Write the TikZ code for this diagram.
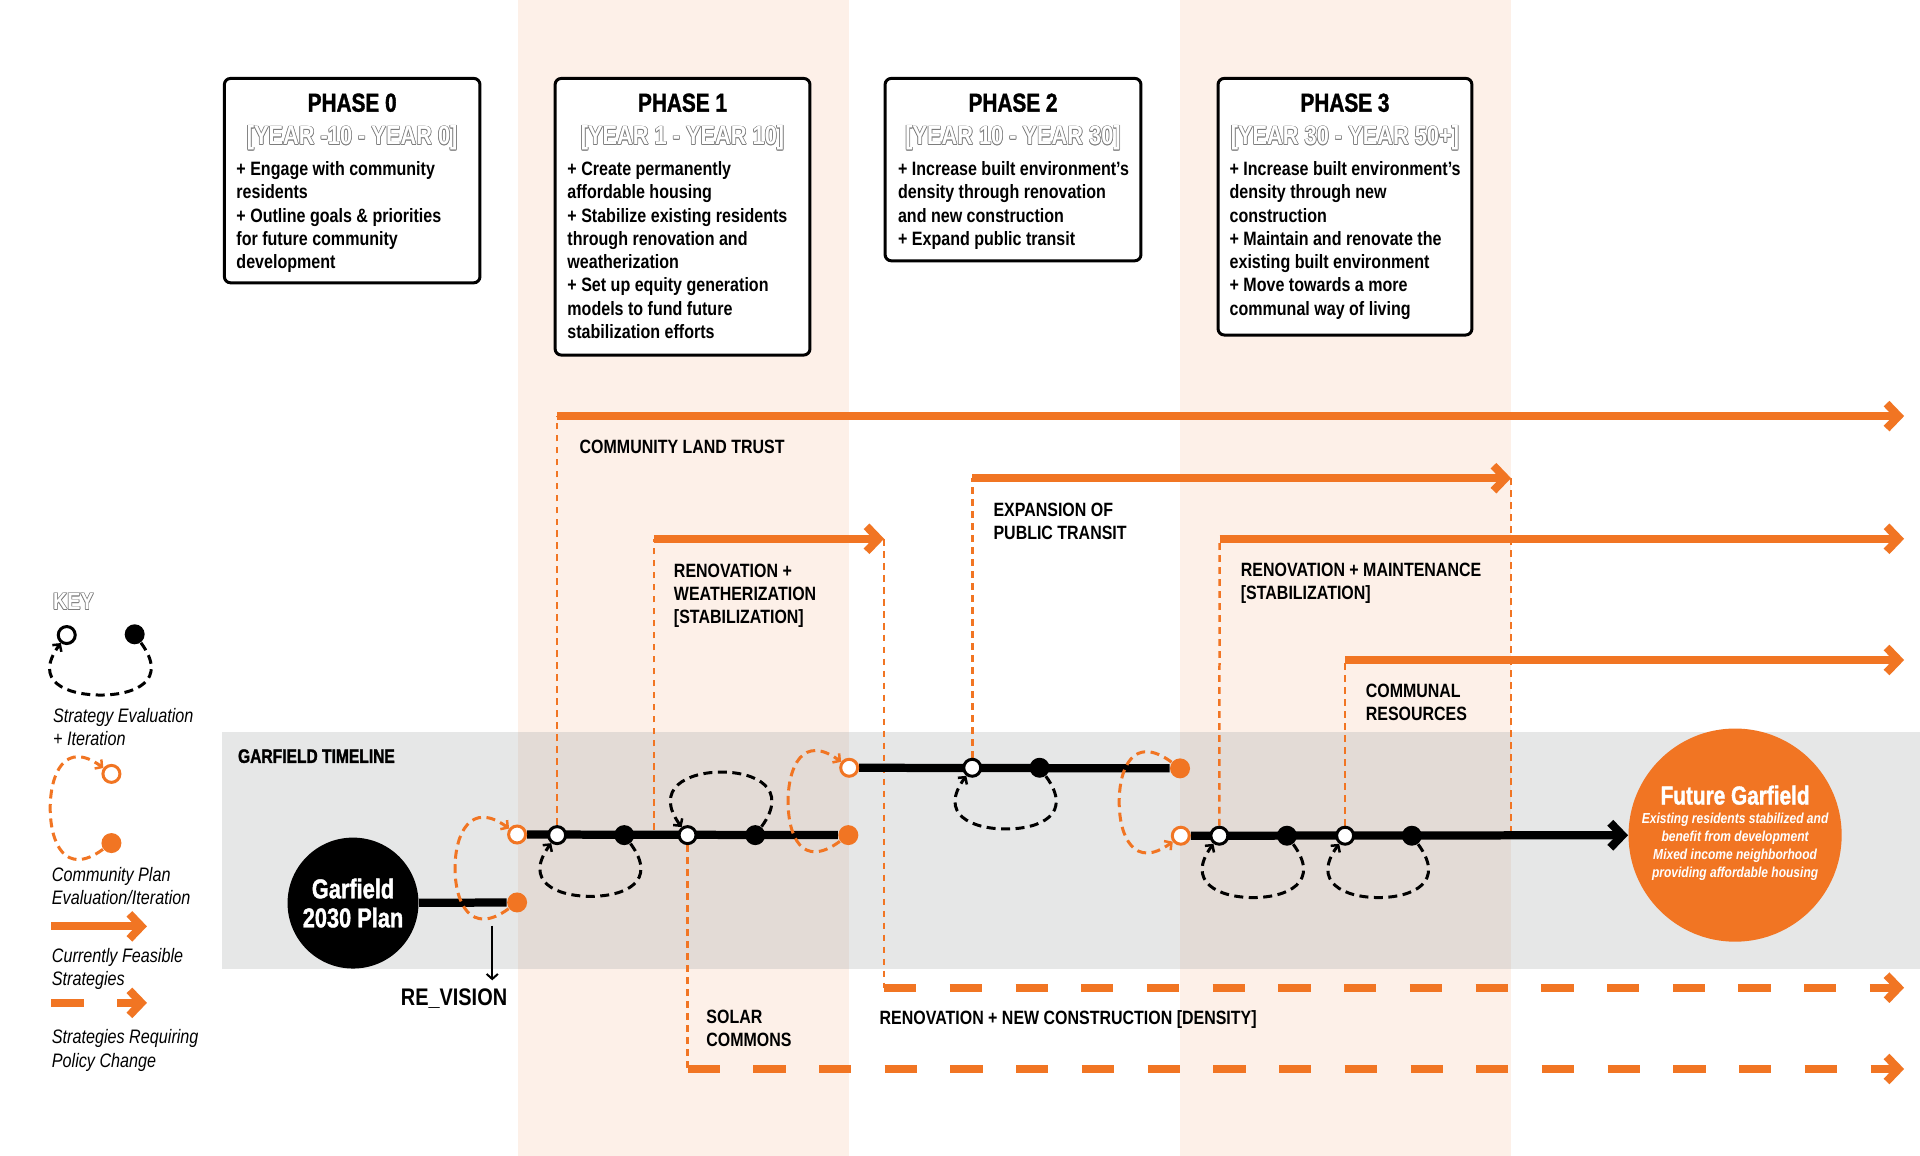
\documentclass[tikz,border=0pt]{standalone}
\usepackage{fontspec}
\setmainfont[FakeStretch=0.83]{Liberation Sans}
\newfontfamily\heavyfont[FakeStretch=0.8,BoldFeatures={FakeBold=1.4}]{Liberation Sans}
\usetikzlibrary{arrows.meta}
\pgfdeclarelayer{bg}\pgfdeclarelayer{mid}\pgfsetlayers{bg,mid,main}
\definecolor{org}{RGB}{241,117,35}
\definecolor{peach}{RGB}{253,240,232}
\definecolor{band}{RGB}{230,231,231}
\definecolor{ovl}{RGB}{227,219,214}
\definecolor{olg}{RGB}{125,125,125}
\newcommand\olt[1]{{\setbox0\hbox{#1}%
 \rlap{\color{olg}\raise.28pt\copy0}%
 \rlap{\color{olg}\lower.28pt\copy0}%
 \rlap{\color{olg}\kern.28pt\copy0}%
 \rlap{\color{olg}\kern-.28pt\copy0}%
 \rlap{\color{olg}\kern.2pt\raise.2pt\copy0}%
 \rlap{\color{olg}\kern-.2pt\raise.2pt\copy0}%
 \rlap{\color{olg}\kern.2pt\lower.2pt\copy0}%
 \rlap{\color{olg}\kern-.2pt\lower.2pt\copy0}%
 {\color{white}\copy0}}}
\tikzset{
 chev/.tip={Straight Barb[length=4.8pt,width=10pt]},
 feas/.style={draw=org, line width=3.2pt, -chev},
 polc/.style={draw=org, line width=3.2pt, dash pattern=on 12.9pt off 13.4pt, -chev},
 thind/.style={draw=org, line width=1pt, dash pattern=on 2.7pt off 2.1pt},
 tl/.style={draw=black, line width=3.3pt},
 bloop/.style={draw=black, line width=1.2pt, dash pattern=on 3.6pt off 2.2pt, -{Straight Barb[length=2pt,width=4.5pt,line width=1pt]}},
 oloop/.style={bloop, draw=org},
 ob/.style={circle, draw=black, fill=white, line width=1.2pt, minimum size=6.8pt, inner sep=0},
 oo/.style={ob, draw=org},
 fb/.style={circle, fill=black, minimum size=8pt, inner sep=0},
 fo/.style={fb, fill=org},
 phbox/.style={draw=black, line width=1.2pt, fill=white, rounded corners=2.5pt, inner sep=0},
 ttl/.style={font=\fontsize{10.4}{12}\selectfont\heavyfont\bfseries, inner sep=0, anchor=base},
 yr/.style={font=\fontsize{10.5}{12}\selectfont\bfseries, inner sep=0, anchor=base},
 body/.style={font=\fontsize{7.74}{9.3}\selectfont\bfseries, align=left, inner sep=0, anchor=north west},
 lbl/.style={font=\fontsize{7.7}{9.3}\selectfont\bfseries, align=left, inner sep=0, anchor=north west},
 keytxt/.style={font=\fontsize{7.8}{9.3}\selectfont\itshape, align=left, inner sep=0, anchor=north west},
}
\begin{document}
\begin{tikzpicture}[x=0.49pt,y=-0.49pt]
\useasboundingbox (0,0) rectangle (1568,944);
\begin{pgfonlayer}{bg}
\fill[white] (0,0) rectangle (1568,944);
\fill[peach] (423,0) rectangle (693.5,944);
\fill[peach] (963.6,0) rectangle (1233.6,944);
\fill[band] (181.7,597.5) rectangle (1568,791.4);
\fill[ovl] (423,597.5) rectangle (693.5,791.4);
\fill[ovl] (963.6,597.5) rectangle (1233.6,791.4);
\end{pgfonlayer}

% phase boxes
\node[phbox, minimum width=102.3pt, minimum height=81.8pt] (p0) at (287.6,147.5) {};
\node[phbox, minimum width=102pt, minimum height=110.7pt] (p1) at (557.4,177) {};
\node[phbox, minimum width=102.4pt, minimum height=73pt] (p2) at (827.3,138.5) {};
\node[phbox, minimum width=101.6pt, minimum height=102.7pt] (p3) at (1098.4,168.8) {};

\node[ttl] (p0t) at (287.6,91.2) {PHASE 0};
\node[ttl] (p1t) at (557.4,91.2) {PHASE 1};
\node[ttl] (p2t) at (827.3,91.2) {PHASE 2};
\node[ttl] (p3t) at (1098.4,91.2) {PHASE 3};

\node[yr] (p0y) at (287.6,118.4) {\olt{[YEAR -10 - YEAR 0]}};
\node[yr] (p1y) at (557.4,118.4) {\olt{[YEAR 1 - YEAR 10]}};
\node[yr] (p2y) at (827.3,118.4) {\olt{[YEAR 10 - YEAR 30]}};
\node[yr] (p3y) at (1098.4,118.4) {\olt{[YEAR 30 - YEAR 50+]}};

\node[body] (p0b) at (192.7,130.4) {\rule{0pt}{0.8em}+ Engage with community\\residents\\+ Outline goals \& priorities\\for future community\\development};
\node[body] (p1b) at (463,130.4) {\rule{0pt}{0.8em}+ Create permanently\\affordable housing\\+ Stabilize existing residents\\through renovation and\\weatherization\\+ Set up equity generation\\models to fund future\\stabilization efforts};
\node[body] (p2b) at (733,130.4) {\rule{0pt}{0.8em}+ Increase built environment’s\\density through renovation\\and new construction\\+ Expand public transit};
\node[body] (p3b) at (1003.8,130.4) {\rule{0pt}{0.8em}+ Increase built environment’s\\density through new\\construction\\+ Maintain and renovate the\\existing built environment\\+ Move towards a more\\communal way of living};

% strategy labels
\node[lbl] (lclt) at (473,357.4) {\rule{0pt}{0.8em}COMMUNITY LAND TRUST};
\node[lbl] (lrw) at (550,458.4) {\rule{0pt}{0.8em}RENOVATION +\\WEATHERIZATION\\{[STABILIZATION]}};
\node[lbl] (lexp) at (811,408.8) {\rule{0pt}{0.8em}EXPANSION OF\\PUBLIC TRANSIT};
\node[lbl] (lrm) at (1013,457.8) {\rule{0pt}{0.8em}RENOVATION + MAINTENANCE\\{[STABILIZATION]}};
\node[lbl] (lcr) at (1115,556.4) {\rule{0pt}{0.8em}COMMUNAL\\RESOURCES};
\node[lbl] (lsol) at (576.5,823) {\rule{0pt}{0.8em}SOLAR\\COMMONS};
\node[lbl, anchor=base west] (lrnc) at (718,837) {RENOVATION + NEW CONSTRUCTION [DENSITY]};

% key
\node[anchor=base west, inner sep=0, font=\fontsize{9.5}{11}\selectfont\bfseries] (key) at (43,498) {\olt{KEY}};
\node[keytxt] (k1t) at (43,576.9) {\rule{0pt}{0.8em}Strategy Evaluation\\+ Iteration};
\node[keytxt] (k2t) at (42,706.8) {\rule{0pt}{0.8em}Community Plan\\Evaluation/Iteration};
\node[keytxt] (k3t) at (42,772.8) {\rule{0pt}{0.8em}Currently Feasible\\Strategies};
\node[keytxt] (k4t) at (42,839.3) {\rule{0pt}{0.8em}Strategies Requiring\\Policy Change};
\node[ob] (kob) at (54.5,518.6) {};
\node[fb] (kfb) at (110,518) {};
\node[oo] (koo) at (91,632) {};
\node[fo] (kfo) at (91,688.5) {};
\coordinate (kfa) at (42,756.5); \coordinate (kfz) at (120,756.5);
\coordinate (kpa) at (42,819); \coordinate (kpz) at (120,819);

% timeline
\node[anchor=base west, inner sep=0, font=\fontsize{7.8}{9}\selectfont\heavyfont\bfseries] (gtl) at (194,623) {GARFIELD TIMELINE};
\node[circle, fill=black, minimum size=52.4pt, inner sep=0, text=white, font=\fontsize{10.9}{11.6}\selectfont\heavyfont\bfseries, align=center] (gp) at (288.3,737.5) {Garfield\\2030 Plan};
\node[anchor=base west, inner sep=0, font=\fontsize{9.6}{11}\selectfont\bfseries] (rv) at (327,820.8) {RE\_VISION};
\node[circle, fill=org, minimum size=85.3pt, inner sep=0] (fg) at (1417,682) {};
\node[anchor=base, font=\fontsize{10.4}{12}\selectfont\heavyfont\bfseries, text=white, inner sep=0] (fgt) at (1417,657) {Future Garfield};
\node[anchor=north, font=\fontsize{5.8}{7.15}\selectfont\bfseries\itshape, text=white, inner sep=0, align=center] (fgs) at (1417,662.8) {\rule{0pt}{0.8em}Existing residents stabilized and\\benefit from development\\Mixed income neighborhood\\providing affordable housing};

\node[fo] (fo1) at (422.3,737) {};
\node[oo] (oo1) at (422.3,681.5) {};
\node[ob] (ob1) at (455,682) {};
\node[fb] (fb1) at (509.8,682) {};
\node[ob] (ob2) at (561.5,682) {};
\node[fb] (fb2) at (616.8,682) {};
\node[fo] (fo2) at (692.8,682) {};
\node[oo] (oo2) at (693.5,627) {};
\node[ob] (ob3) at (794,627) {};
\node[fb] (fb3) at (849,627) {};
\node[fo] (fo3) at (963.7,627.5) {};
\node[oo] (oo3) at (964.3,682.5) {};
\node[ob] (ob4) at (995.8,682.5) {};
\node[fb] (fb4) at (1051,682.5) {};
\node[ob] (ob5) at (1098.5,682.5) {};
\node[fb] (fb5) at (1153,682.5) {};

\coordinate (cltA) at (455,339.8); \coordinate (cltB) at (1555,339.8);
\coordinate (rwS) at (534,678); \coordinate (rwA) at (534,440); \coordinate (rwB) at (722,440);
\coordinate (dnA) at (722,806.6); \coordinate (dnB) at (1555,806.6);
\coordinate (trA) at (794,390.5); \coordinate (trB) at (1234,390.5); \coordinate (trE) at (1234,678.5);
\coordinate (rmA) at (996,440); \coordinate (rmB) at (1555,440);
\coordinate (crA) at (1098.5,539); \coordinate (crB) at (1555,539);
\coordinate (slA) at (561.5,873); \coordinate (slB) at (1555,873);
\coordinate (rvS) at (402,756);
% loop turning points
\coordinate (lb1) at (482.4,732);
\coordinate (lb2) at (589.2,630.5);
\coordinate (lb3) at (821.5,677);
\coordinate (lb4) at (1023.4,733);
\coordinate (lb5) at (1125.8,733);
\coordinate (lbk) at (82.3,567.6);
\coordinate (ll1) at (371.6,709);
\coordinate (ll2) at (643.6,654.5);
\coordinate (ll3) at (914,655);
\coordinate (llk) at (41,660);

\begin{pgfonlayer}{mid}
% dashed links
\draw[thind] (ob1) -- (cltA);
\draw[thind] (rwS) -- (rwA);
\draw[thind] (rwB) -- (dnA);
\draw[thind] (ob3) -- (trA);
\draw[thind] (trB) -- (trE);
\draw[thind] (ob4) -- (rmA);
\draw[thind] (ob5) -- (crA);
\draw[thind] (ob2) -- (slA);
% strategies
\draw[feas] (cltA) -- (cltB);
\draw[feas] (rwA) -- (rwB);
\draw[feas] (trA) -- (trB);
\draw[feas] (rmA) -- (rmB);
\draw[feas] (crA) -- (crB);
\draw[polc] (dnA) -- (dnB);
\draw[polc] (slA) -- (slB);
% timeline
\draw[tl] (gp) -- (fo1);
\draw[tl] (oo1) -- (fo2);
\draw[tl] (oo2) -- (fo3);
\draw[tl, -chev] (oo3) -- (fg);
\draw[draw=black, line width=0.8pt, -{Straight Barb[length=2pt,width=4.5pt]}] (rvS) -- ([yshift=3pt]rvS |- rv.north);
% black loops
\draw[bloop] (fb1) .. controls +(28,38) and +(28,0) .. (lb1) .. controls +(-28,0) and +(-28,38) .. (ob1);
\draw[bloop] (fb2) .. controls +(28,-38) and +(28,0) .. (lb2) .. controls +(-28,0) and +(-28,-38) .. (ob2);
\draw[bloop] (fb3) .. controls +(28,38) and +(28,0) .. (lb3) .. controls +(-28,0) and +(-28,38) .. (ob3);
\draw[bloop] (fb4) .. controls +(28,38) and +(28,0) .. (lb4) .. controls +(-28,0) and +(-28,38) .. (ob4);
\draw[bloop] (fb5) .. controls +(28,38) and +(28,0) .. (lb5) .. controls +(-28,0) and +(-28,38) .. (ob5);
\draw[bloop] (kfb) .. controls +(28,38) and +(28,0) .. (lbk) .. controls +(-28,0) and +(-28,38) .. (kob);
% orange loops
\draw[oloop] (fo1) .. controls +(-38,28) and +(0,28) .. (ll1) .. controls +(0,-28) and +(-38,-28) .. (oo1);
\draw[oloop] (fo2) .. controls +(-38,28) and +(0,28) .. (ll2) .. controls +(0,-28) and +(-38,-28) .. (oo2);
\draw[oloop] (fo3) .. controls +(-38,-28) and +(0,-28) .. (ll3) .. controls +(0,28) and +(-38,28) .. (oo3);
\draw[oloop] (kfo) .. controls +(-38,28) and +(0,28) .. (llk) .. controls +(0,-28) and +(-38,-28) .. (koo);
% key arrows
\draw[feas] (kfa) -- (kfz);
\draw[polc] (kpa) -- (kpz);
\end{pgfonlayer}
\end{tikzpicture}
\end{document}
